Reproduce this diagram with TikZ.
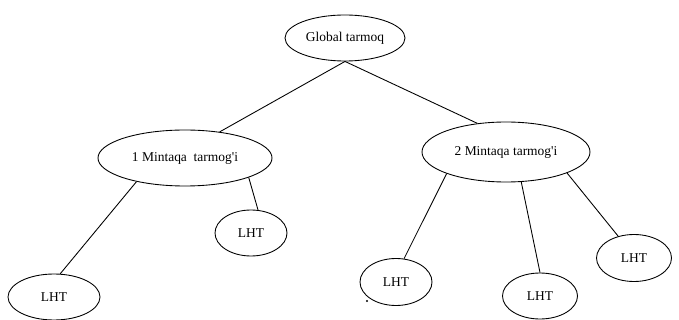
\documentclass[tikz,border=0pt]{standalone}
\usepackage{fontspec}
\setmainfont{Liberation Serif}
\usepackage{tikz}
\usetikzlibrary{shapes.geometric}

\begin{document}
\begin{tikzpicture}[x=0.03cm, y=-0.03cm, line width=0.75pt,
    oval/.style 2 args={ellipse, draw, minimum width=#1, minimum height=#2,
      inner sep=0pt, font=\fontsize{11.5}{13}\selectfont}]
    % Frame of the picture
    \useasboundingbox (0,0) rectangle (679,320);

    % Global network at the top
    \node[oval={3.6cm}{1.38cm}] (global) at (345,38) {Global tarmoq};

    % Regional networks
    \node[oval={5.22cm}{1.68cm}] (reg1) at (185,158) {1 Mintaqa\ \ tarmog\textquotesingle i};
    \node[oval={5.04cm}{1.8cm}] (reg2) at (506,152) {2 Mintaqa tarmog\textquotesingle i};

    % Local networks
    \node[oval={2.76cm}{1.38cm}] (lht1) at (54,297) {LHT};
    \node[oval={2.16cm}{1.38cm}] (lht2) at (251,233) {LHT};
    \node[oval={2.16cm}{1.41cm}] (lht3) at (396,282) {LHT};
    \node[oval={2.25cm}{1.38cm}] (lht4) at (540,296) {LHT};
    \node[oval={2.25cm}{1.41cm}] (lht5) at (634,258) {LHT};

    % Links
    \draw (global.south) -- (reg1.37);
    \draw (global.south) -- (reg2.135);
    \draw (reg1.206) -- (lht1.75);
    \draw (reg1.343) -- (lht2.73);
    \draw (reg2.200) -- (lht3.71);
    \draw (reg2.297) -- (lht4.90);
    \draw (reg2.341) -- (lht5.126);

    % stray dot
    \fill (367,301) circle (1.2);
\end{tikzpicture}
\end{document}
